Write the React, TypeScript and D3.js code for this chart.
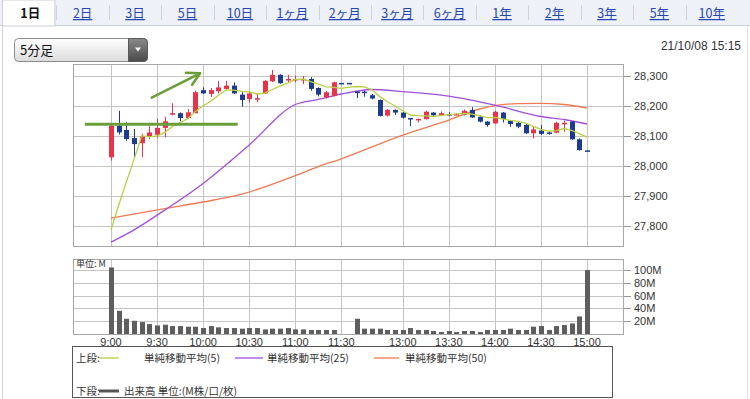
import * as d3 from 'd3'

// 5-minute slots: 0 = 9:00 ... 29 = 11:25, 30/31 lunch fillers, 32 = 12:30 ... 62 = 15:00
const opens = [28029, 28134, 28120, 28093, 28076, 28098, 28104, 28127, 28171, 28176, 28160, 28176, 28253, 28240, 28249, 28257, 28268, 28238, 28223, 28222, 28242, 28282, 28304, 28287, 28287, 28288, 28290, 28260, 28229, 28234, 28277, 28277, 28248, 28248, 28236, 28220, 28168, 28187, 28178, 28160, 28153, 28156, 28178, 28170, 28173, 28172, 28170, 28187, 28164, 28148, 28142, 28178, 28151, 28144, 28137, 28109, 28118, 28112, 28111, 28140, 28148, 28089, 28052]
const highs = [28140, 28184, 28146, 28123, 28107, 28134, 28157, 28164, 28209, 28179, 28190, 28251, 28262, 28260, 28284, 28284, 28279, 28246, 28246, 28242, 28286, 28320, 28306, 28304, 28301, 28300, 28296, 28262, 28250, 28281, 28277, 28277, 28248, 28250, 28240, 28222, 28190, 28189, 28180, 28160, 28158, 28184, 28180, 28182, 28180, 28176, 28188, 28196, 28166, 28150, 28184, 28180, 28153, 28147, 28140, 28131, 28137, 28115, 28147, 28151, 28150, 28092, 28052]
const lows = [28018, 28105, 28084, 28031, 28029, 28090, 28093, 28096, 28168, 28149, 28157, 28176, 28240, 28230, 28242, 28255, 28240, 28198, 28212, 28212, 28240, 28280, 28274, 28279, 28279, 28273, 28251, 28232, 28225, 28232, 28276, 28276, 28226, 28231, 28222, 28165, 28165, 28170, 28158, 28133, 28145, 28155, 28167, 28168, 28166, 28170, 28168, 28160, 28145, 28131, 28140, 28145, 28131, 28126, 28107, 28092, 28104, 28104, 28109, 28114, 28087, 28051, 28051]
const closes = [28134, 28112, 28090, 28073, 28098, 28112, 28127, 28149, 28176, 28160, 28179, 28246, 28242, 28253, 28262, 28268, 28242, 28220, 28242, 28226, 28284, 28304, 28276, 28290, 28290, 28290, 28257, 28238, 28246, 28279, 28276, 28276, 28246, 28245, 28225, 28167, 28187, 28178, 28161, 28158, 28157, 28181, 28169, 28176, 28172, 28173, 28184, 28162, 28148, 28137, 28181, 28156, 28140, 28131, 28109, 28122, 28107, 28109, 28144, 28144, 28089, 28053, 28051]
const volumes = [104, 36.2, 23.8, 20.7, 18.6, 15.5, 13.4, 14.5, 12.4, 12.4, 11.4, 11.4, 9.3, 12.4, 10.4, 9.3, 9.3, 8.3, 9.3, 9.3, 7.2, 8.3, 8.3, 9.3, 7.2, 7.2, 6.2, 6.2, 6.2, 6.2, 0, 0, 23.8, 8.3, 8.3, 8.3, 6.2, 6.2, 6.2, 9.3, 6.2, 6.2, 4.7, 3.1, 4.7, 3.1, 4.7, 4.7, 3.1, 6.2, 6.2, 6.2, 8.3, 6.2, 6.2, 11.4, 12.4, 6.2, 12.4, 14, 16.5, 27.4, 100]

const ma5 = [27787, 27869, 27947, 28022, 28101, 28097, 28100, 28112, 28132, 28145, 28158, 28182, 28201, 28216, 28236, 28254, 28253, 28249, 28247, 28240, 28243, 28255, 28266, 28276, 28289, 28290, 28281, 28273, 28264, 28262, 28259, 28263, 28265, 28264, 28254, 28232, 28214, 28200, 28184, 28170, 28168, 28167, 28165, 28168, 28171, 28174, 28175, 28173, 28168, 28161, 28162, 28157, 28152, 28149, 28143, 28132, 28122, 28116, 28118, 28125, 28119, 28108, 28096]
const ma25Slots = [0, 3, 7, 12, 18, 24, 27, 30, 34, 38, 44, 50, 56, 59, 62]
const ma25 = [27746, 27787, 27853, 27942, 28070, 28205, 28222, 28240, 28255, 28248, 28233, 28203, 28165, 28155, 28140]
const ma50Slots = [0, 7, 12, 17, 24, 27, 30, 38, 44, 48, 50, 53, 56, 59, 62]
const ma50 = [27826, 27858, 27880, 27906, 27968, 27998, 28024, 28103, 28153, 28190, 28201, 28208, 28209, 28205, 28193]

const priceTicks = [27800, 27900, 28000, 28100, 28200, 28300]
const volTicks = [20, 40, 60, 80, 100]
const timeSlots = [0, 6, 12, 18, 24, 30, 38, 44, 50, 56, 62]
const timeLabels = ['9:00', '9:30', '10:00', '10:30', '11:00', '11:30', '13:00', '13:30', '14:00', '14:30', '15:00']
const tabs = ['1日', '2日', '3日', '5日', '10日', '1ヶ月', '2ヶ月', '3ヶ月', '6ヶ月', '1年', '2年', '3年', '5年', '10年']

// hand-drawn annotations: [slot, price]
const levelLine = [[-3.4, 28139], [16.5, 28139]]
const arrowLine = [[5.3, 28228], [11.6, 28309]]

const RED = '#e6354a'
const BLUE = '#1e3c8e'
const GRID = '#c4c4c4'
const NUM = '"Liberation Sans", Arial, sans-serif'
const JP = '"Noto Sans CJK JP", sans-serif'

export default function App() {
  const x = d3.scaleLinear().domain([-4.95, 66.82]).range([73, 624])
  const y = d3.scaleLinear().domain([27730, 28340]).range([247, 64])
  const vy = d3.scaleLinear().domain([0, 117.2]).range([334, 259])
  const tabX = d3.scaleBand().domain(tabs).range([4, 738])

  const px = (v: number) => Math.round(v) + 0.5
  const line = d3.line<[number, number]>().x(d => x(d[0])).y(d => y(d[1]))
  const smooth = d3.line<[number, number]>().x(d => x(d[0])).y(d => y(d[1])).curve(d3.curveMonotoneX)
  const ma5Path = line(ma5.map((v, i) => [i, v] as [number, number]))
  const ma25Path = smooth(ma25.map((v, i) => [ma25Slots[i], v] as [number, number]))
  const ma50Path = smooth(ma50.map((v, i) => [ma50Slots[i], v] as [number, number]))

  const [a0, a1] = arrowLine.map(d => [x(d[0]), y(d[1])])
  const ang = Math.atan2(a1[1] - a0[1], a1[0] - a0[0])
  const head = (off: number) => [a1[0] - 14 * Math.cos(ang + off), a1[1] - 14 * Math.sin(ang + off)]
  const h1 = head(0.5)
  const h2 = head(-0.5)

  return (
    <div style={{ position: 'fixed', left: 0, top: 0 }}>
      <svg width={750} height={399} style={{ display: 'block', background: '#fff' }}>
        <defs>
          <linearGradient id="sel" x1="0" y1="0" x2="0" y2="1">
            <stop offset="0" stopColor="#ffffff" />
            <stop offset="1" stopColor="#dcdcdc" />
          </linearGradient>
          <linearGradient id="btn" x1="0" y1="0" x2="0" y2="1">
            <stop offset="0" stopColor="#8a8a8a" />
            <stop offset="1" stopColor="#4a4a4a" />
          </linearGradient>
        </defs>

        {/* tab bar */}
        <rect x={0} y={0} width={750} height={26} fill="#eef1f7" />
        <line x1={0} x2={750} y1={25.5} y2={25.5} stroke="#c9ceda" />
        <rect x={2.5} y={0} width={tabX.bandwidth()} height={26} fill="#fff" stroke="#c9ceda" />
        {tabs.map((t, i) => (
          <g key={t}>
            {i > 0 && (
              <line x1={px(tabX(t)!)} x2={px(tabX(t)!)} y1={5} y2={20} stroke="#cfd3dc" />
            )}
            <text
              x={tabX(t)! + tabX.bandwidth() / 2}
              y={18}
              textAnchor="middle"
              fontFamily={JP}
              fontSize={12.5}
              fontWeight={i === 0 ? 'bold' : 'normal'}
              fill={i === 0 ? '#111' : '#2546b0'}
              textDecoration={i === 0 ? 'none' : 'underline'}
            >{t}</text>
          </g>
        ))}
        <line x1={2.5} x2={2.5} y1={26} y2={399} stroke="#d4d4d4" />
        <line x1={747.5} x2={747.5} y1={26} y2={399} stroke="#e2e2e2" />

        {/* selector and timestamp */}
        <rect x={14.5} y={38.5} width={133} height={23} rx={4} fill="url(#sel)" stroke="#8c8c8c" />
        <path d="M128.5,38.5 h15 a4,4 0 0 1 4,4 v15 a4,4 0 0 1 -4,4 h-15 z" fill="url(#btn)" stroke="#5a5a5a" />
        <path d="M135,47.5 h6 l-3,4 z" fill="#fff" />
        <text x={20} y={55} fontFamily={JP} fontSize={13} fill="#111">5分足</text>
        <text x={741} y={50} textAnchor="end" fontFamily={NUM} fontSize={12} fill="#333">21/10/08 15:15</text>

        {/* price panel */}
        <rect x={73.5} y={64.5} width={550} height={182} fill="#fff" stroke="#a8a8a8" />
        {priceTicks.map(t => (
          <g key={t}>
            <line x1={74} x2={623} y1={px(y(t))} y2={px(y(t))} stroke={GRID} />
            <line x1={624} x2={631} y1={px(y(t))} y2={px(y(t))} stroke="#999" />
            <text x={634} y={y(t) + 4} fontFamily={NUM} fontSize={11} fill="#333">{d3.format(',')(t)}</text>
          </g>
        ))}
        {timeSlots.map(s => (
          <line key={s} x1={px(x(s))} x2={px(x(s))} y1={65} y2={246} stroke={GRID} />
        ))}

        <path d={ma50Path!} fill="none" stroke="#f07a55" strokeWidth={1.3} />
        <path d={ma25Path!} fill="none" stroke="#a24fd9" strokeWidth={1.3} />

        {opens.map((o, i) => {
          const c = closes[i]
          const col = c > o ? RED : BLUE
          const cx = Math.round(x(i))
          const top = y(Math.max(o, c))
          const h = Math.max(1.5, y(Math.min(o, c)) - top)
          return (
            <g key={i}>
              <line x1={cx + 0.5} x2={cx + 0.5} y1={y(highs[i])} y2={y(lows[i])} stroke={col} />
              <rect x={cx - 2} y={top} width={5} height={h} fill={col} />
            </g>
          )
        })}

        <path d={ma5Path!} fill="none" stroke="#b9d046" strokeWidth={1.3} />

        {/* annotations */}
        <path d={line(levelLine as [number, number][])!} stroke="#6a9e3a" strokeWidth={3} fill="none" />
        <path
          d={`M${a0[0]},${a0[1]}L${a1[0]},${a1[1]}M${h1[0]},${h1[1]}L${a1[0]},${a1[1]}L${h2[0]},${h2[1]}`}
          stroke="#6a9e3a" strokeWidth={2.5} fill="none" strokeLinecap="round" strokeLinejoin="round"
        />

        {/* volume panel */}
        <rect x={73.5} y={259.5} width={550} height={75} fill="#fff" stroke="#a8a8a8" />
        {volTicks.map(t => (
          <g key={t}>
            <line x1={74} x2={623} y1={px(vy(t))} y2={px(vy(t))} stroke={GRID} />
            <line x1={624} x2={631} y1={px(vy(t))} y2={px(vy(t))} stroke="#999" />
            <text x={634} y={vy(t) + 4} fontFamily={NUM} fontSize={11} fill="#333">{t}M</text>
          </g>
        ))}
        {timeSlots.map((s, i) => (
          <g key={s}>
            <line x1={px(x(s))} x2={px(x(s))} y1={260} y2={334} stroke={GRID} />
            <text x={x(s)} y={346} textAnchor="middle" fontFamily={NUM} fontSize={11} fill="#333">{timeLabels[i]}</text>
          </g>
        ))}
        {volumes.map((v, i) => v > 0 && (
          <rect key={i} x={Math.round(x(i)) - 2} y={vy(v)} width={5} height={vy(0) - vy(v)} fill="#5e5e5e" />
        ))}
        <text x={76} y={267} fontFamily={JP} fontSize={9} fill="#333">単位: M</text>

        {/* legend */}
        <rect x={72.5} y={346.5} width={540} height={51} fill="#fff" stroke="#555" />
        <g fontFamily={JP} fontSize={10.5} fill="#333">
          <text x={76} y={362}>上段:</text>
          <line x1={99} x2={119} y1={358} y2={358} stroke="#b9d046" strokeWidth={1.3} />
          <text x={144} y={362}>単純移動平均(5)</text>
          <line x1={235} x2={263} y1={358} y2={358} stroke="#a24fd9" strokeWidth={1.3} />
          <text x={267} y={362}>単純移動平均(25)</text>
          <line x1={374} x2={399} y1={358} y2={358} stroke="#f07a55" strokeWidth={1.3} />
          <text x={405} y={362}>単純移動平均(50)</text>
          <text x={76} y={395}>下段:</text>
          <line x1={99} x2={119} y1={391} y2={391} stroke="#555" strokeWidth={3} />
          <text x={124} y={395}>出来高 単位:(M株/口/枚)</text>
        </g>
      </svg>
    </div>
  )
}
